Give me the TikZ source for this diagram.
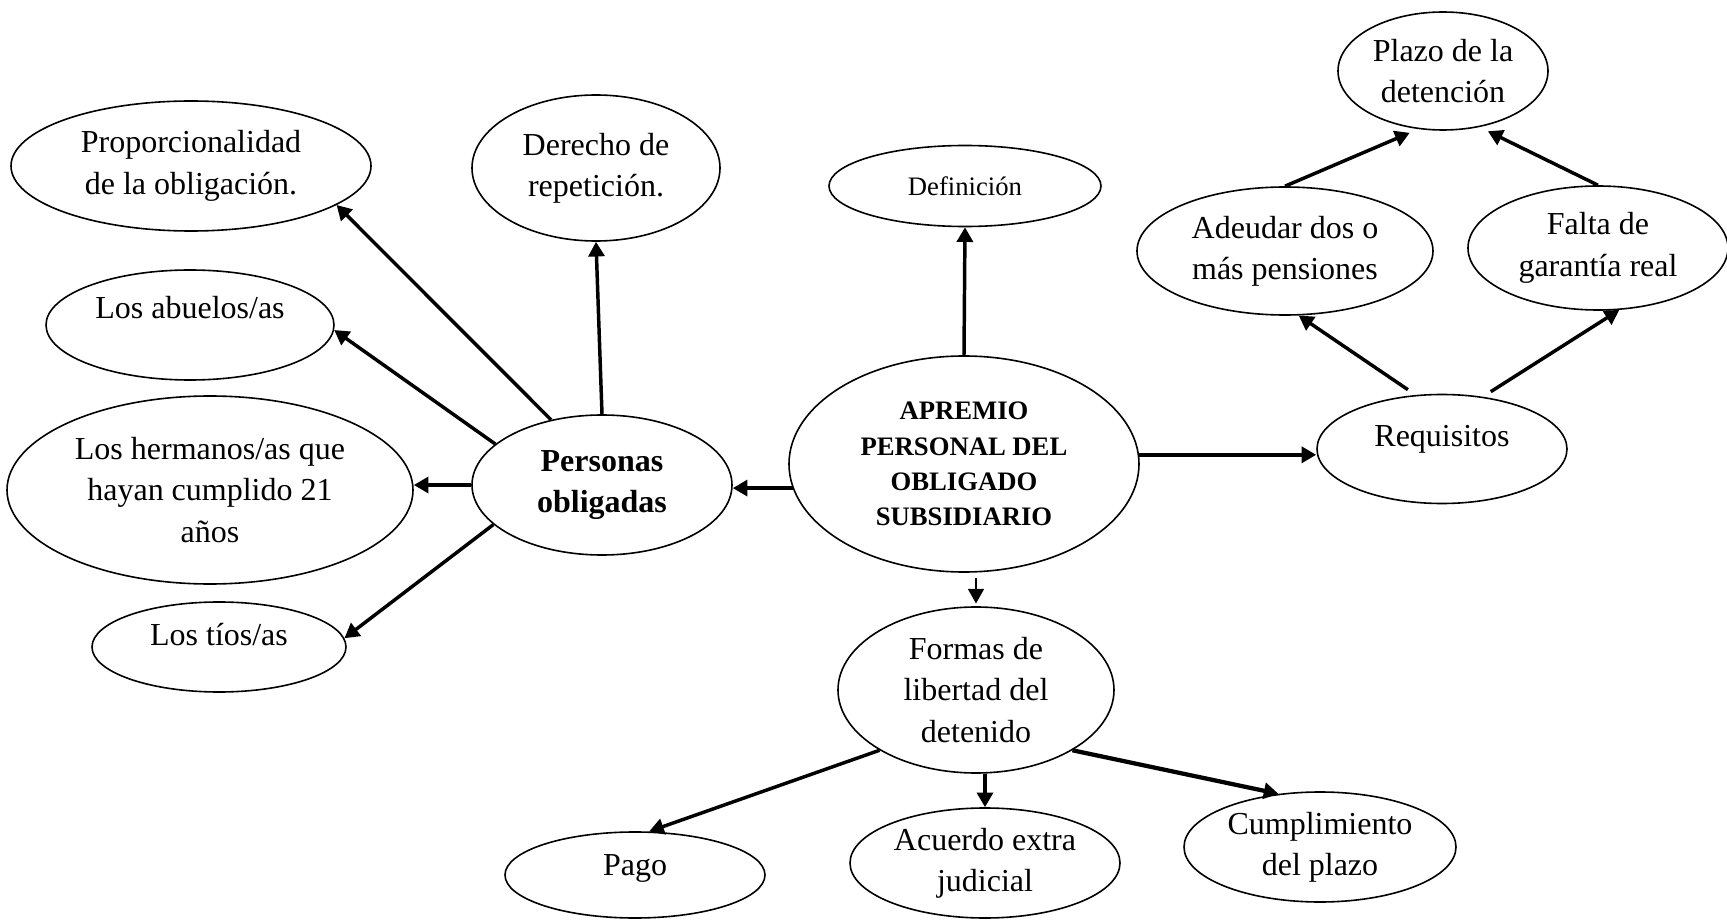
\documentclass[tikz,border=0pt]{standalone}
\usepackage{fontspec}
\setmainfont{Liberation Serif}
\usetikzlibrary{shapes.geometric,arrows.meta}

\begin{document}
\begin{tikzpicture}[x=0.375pt,y=-0.375pt,
	bubble/.style n args={2}{ellipse,draw,line width=0.6pt,inner sep=0pt,align=center,
		minimum width=#1*0.375pt,minimum height=#2*0.375pt,font=\fontsize{12}{15.5}\selectfont},
	lift/.style={text depth=#1},
	arr/.style={line width=1.3pt,-{Triangle[length=5.5pt,width=6pt]}},
	heavyarr/.style={line width=1.6pt},
	lightarr/.style={line width=0.6pt}]
			%%%%% START %%%%%
			
			\clip (0,0) rectangle (1727,920);
			\useasboundingbox (0,0) rectangle (1727,920);
			
			\node[bubble={350}{216},font=\bfseries\fontsize{10}{13.2}\selectfont] (apr) at (964,464) {APREMIO\\PERSONAL DEL\\OBLIGADO\\SUBSIDIARIO};
			\node[bubble={272}{81},font=\fontsize{10}{12}\selectfont] (def) at (965,186) {Definición};
			
			\node[bubble={260}{140},font=\bfseries\fontsize{12}{15.5}\selectfont] (pers) at (602,485) {Personas\\obligadas};
			\node[bubble={360}{130}] (prop) at (191,166) {Proporcionalidad\\de la obligación.};
			\node[bubble={248}{146}] (der) at (596,168) {Derecho de\\repetición.};
			\node[bubble={288}{110},lift=13pt] (abu) at (190,325) {Los abuelos/as};
			\node[bubble={406}{188}] (her) at (210,490) {Los hermanos/as que\\hayan cumplido 21\\años};
			\node[bubble={254}{90},lift=9.2pt] (tio) at (219,647) {Los tíos/as};
			
			\node[bubble={250}{109},lift=10pt] (req) at (1442,449) {Requisitos};
			\node[bubble={296}{128}] (adeu) at (1285,251) {Adeudar dos o\\más pensiones};
			\node[bubble={260}{124}] (falta) at (1598,248) {Falta de\\garantía real};
			\node[bubble={210}{118}] (plazo) at (1443,71) {Plazo de la\\detención};
			
			\node[bubble={276}{166}] (formas) at (976,690) {Formas de\\libertad del\\detenido};
			\node[bubble={260}{86},lift=7.7pt] (pago) at (635,875) {Pago};
			\node[bubble={270}{110}] (acu) at (985,863) {Acuerdo extra\\judicial};
			\node[bubble={272}{110}] (cump) at (1320,847) {Cumplimiento\\del plazo};
			
			% personas obligadas
			\draw[arr] (pers.128) -- (prop.345);
			\draw[arr] (pers.north) -- (der.south);
			\draw[arr] (pers.159) -- (abu.358);
			\draw[arr] (pers.west) -- (pers.west -| her.east);
			\draw[arr] (pers.200) -- (tio.4);
			
			\draw[arr] (apr.188) -- (apr.188 -| pers.east);
			\draw[arr] (apr.north) -- (def.south);
			\draw[arr,heavyarr] (apr.3) -- (apr.3 -| req.west);
			\draw[arr,lightarr,shorten <=2pt,shorten >=1pt] (formas.north |- apr.south) -- (formas.north);
			
			% requisitos
			\draw[arr,shorten <=3.5pt] (req.116) -- (adeu.282);
			\draw[arr,shorten <=3.5pt] (req.52) -- (falta.289);
			\draw[arr,shorten >=3.5pt] (adeu.north) -- (plazo.247);
			\draw[arr,shorten >=3.5pt] (falta.north) -- (plazo.303);
			
			% formas de libertad
			\draw[arr] (formas.212) -- (pago.72);
			\draw[arr] (acu.north |- formas.south) -- (acu.north);
			\draw[arr,heavyarr] (formas.328) -- (cump.128);
			
			%%%%% END %%%%%
\end{tikzpicture}
\end{document}
